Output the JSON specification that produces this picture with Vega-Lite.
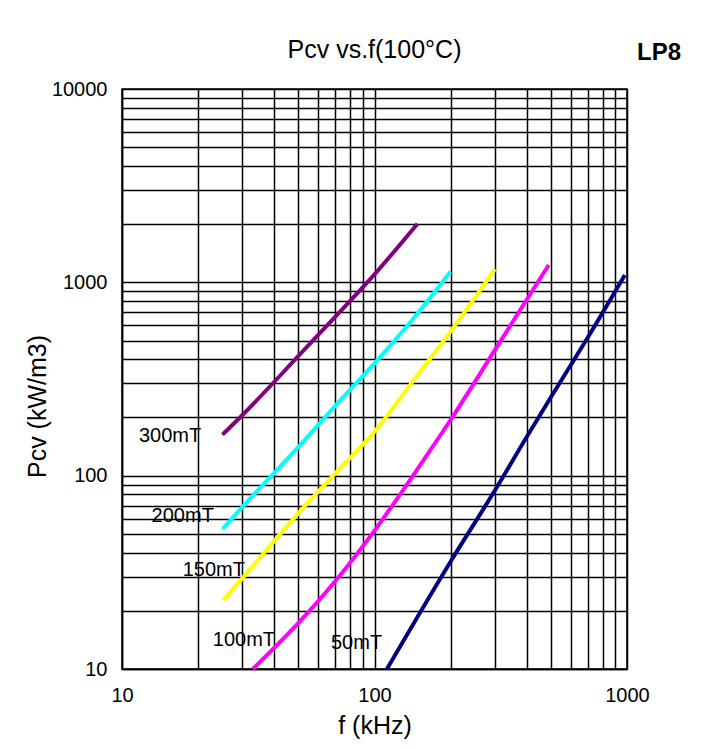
{
  "$schema": "https://vega.github.io/schema/vega-lite/v6.json",
  "width": 505,
  "height": 580,
  "autosize": {"type": "none"},
  "padding": {"left": 122, "top": 89, "right": 82, "bottom": 80},
  "background": "white",
  "config": {
    "font": "Liberation Sans",
    "view": {"stroke": "black", "strokeWidth": 1.5},
    "axis": {
      "grid": true,
      "gridColor": "black",
      "gridOpacity": 1,
      "gridWidth": 1.5,
      "ticks": false,
      "tickSize": 0,
      "domainColor": "black",
      "domainWidth": 1.5,
      "labelFont": "Liberation Sans",
      "labelFontSize": 20,
      "labelColor": "black",
      "labelOverlap": false,
      "labelFlush": false,
      "titleFont": "Liberation Sans",
      "titleFontSize": 25,
      "titleFontWeight": "normal",
      "titleColor": "black"
    }
  },
  "title": {
    "text": "Pcv vs.f(100°C)",
    "font": "Liberation Sans",
    "fontSize": 25,
    "fontWeight": "normal",
    "color": "black",
    "anchor": "middle",
    "baseline": "alphabetic",
    "offset": -42
  },
  "datasets": {
    "curves": [
      {"B": "300mT", "f": 25, "pcv": 163},
      {"B": "300mT", "f": 30, "pcv": 206},
      {"B": "300mT", "f": 50, "pcv": 416},
      {"B": "300mT", "f": 70, "pcv": 665},
      {"B": "300mT", "f": 100, "pcv": 1100},
      {"B": "300mT", "f": 148, "pcv": 2010},
      {"B": "200mT", "f": 25, "pcv": 53},
      {"B": "200mT", "f": 30, "pcv": 69},
      {"B": "200mT", "f": 50, "pcv": 141},
      {"B": "200mT", "f": 70, "pcv": 230},
      {"B": "200mT", "f": 100, "pcv": 381},
      {"B": "200mT", "f": 150, "pcv": 705},
      {"B": "200mT", "f": 200, "pcv": 1135},
      {"B": "150mT", "f": 25.2, "pcv": 22.7},
      {"B": "150mT", "f": 30, "pcv": 29.5},
      {"B": "150mT", "f": 50, "pcv": 64},
      {"B": "150mT", "f": 70, "pcv": 103},
      {"B": "150mT", "f": 100, "pcv": 169},
      {"B": "150mT", "f": 150, "pcv": 339},
      {"B": "150mT", "f": 200, "pcv": 556},
      {"B": "150mT", "f": 300, "pcv": 1170},
      {"B": "100mT", "f": 33, "pcv": 10},
      {"B": "100mT", "f": 50, "pcv": 17.3},
      {"B": "100mT", "f": 70, "pcv": 28.5},
      {"B": "100mT", "f": 100, "pcv": 52},
      {"B": "100mT", "f": 150, "pcv": 111},
      {"B": "100mT", "f": 200, "pcv": 194},
      {"B": "100mT", "f": 300, "pcv": 447},
      {"B": "100mT", "f": 400, "pcv": 810},
      {"B": "100mT", "f": 490, "pcv": 1230},
      {"B": "50mT", "f": 112, "pcv": 10},
      {"B": "50mT", "f": 200, "pcv": 35.9},
      {"B": "50mT", "f": 300, "pcv": 84},
      {"B": "50mT", "f": 400, "pcv": 158},
      {"B": "50mT", "f": 500, "pcv": 255},
      {"B": "50mT", "f": 700, "pcv": 520},
      {"B": "50mT", "f": 980, "pcv": 1090}
    ],
    "labels": [
      {"text": "300mT", "f": 15.5, "pcv": 161},
      {"text": "200mT", "f": 17.4, "pcv": 61.8},
      {"text": "150mT", "f": 23.1, "pcv": 32.5},
      {"text": "100mT", "f": 30.4, "pcv": 14.2},
      {"text": "50mT", "f": 84.9, "pcv": 13.6}
    ],
    "tag": [
      {"text": "LP8", "f": 1339, "pcv": 14150}
    ]
  },
  "layer": [
    {
      "data": {"name": "curves"},
      "mark": {"type": "line", "strokeWidth": 4, "interpolate": "monotone"},
      "encoding": {
        "x": {
          "field": "f",
          "type": "quantitative",
          "scale": {"type": "log", "domain": [10, 1000], "nice": false},
          "axis": {
            "title": "f (kHz)",
            "values": [10, 20, 30, 40, 50, 60, 70, 80, 90, 100, 200, 300, 400, 500, 600, 700, 800, 900, 1000],
            "format": "d",
            "labelExpr": "indexof([10, 100, 1000], datum.value) >= 0 ? datum.label : ''",
            "labelPadding": 16,
            "titlePadding": 8
          }
        },
        "y": {
          "field": "pcv",
          "type": "quantitative",
          "scale": {"type": "log", "domain": [10, 10000], "nice": false},
          "axis": {
            "title": "Pcv (kW/m3)",
            "values": [10, 20, 30, 40, 50, 60, 70, 80, 90, 100, 200, 300, 400, 500, 600, 700, 800, 900, 1000, 2000, 3000, 4000, 5000, 6000, 7000, 8000, 9000, 10000],
            "format": "d",
            "labelExpr": "indexof([10, 100, 1000, 10000], datum.value) >= 0 ? datum.label : ''",
            "labelPadding": 15,
            "titlePadding": 1,
            "titleY": 317
          }
        },
        "color": {
          "field": "B",
          "type": "nominal",
          "scale": {
            "domain": ["300mT", "200mT", "150mT", "100mT", "50mT"],
            "range": ["#800080", "#00FFFF", "#FFFF00", "#FF00FF", "#000080"]
          },
          "legend": null
        },
        "detail": {"field": "B"}
      }
    },
    {
      "data": {"name": "labels"},
      "mark": {"type": "text", "align": "center", "baseline": "middle", "fontSize": 20, "font": "Liberation Sans", "color": "black"},
      "encoding": {
        "x": {"field": "f", "type": "quantitative"},
        "y": {"field": "pcv", "type": "quantitative"},
        "text": {"field": "text"}
      }
    },
    {
      "data": {"name": "tag"},
      "mark": {"type": "text", "align": "center", "baseline": "alphabetic", "fontSize": 24, "fontWeight": "bold", "font": "Liberation Sans", "color": "black"},
      "encoding": {
        "x": {"field": "f", "type": "quantitative"},
        "y": {"field": "pcv", "type": "quantitative"},
        "text": {"field": "text"}
      }
    }
  ]
}
